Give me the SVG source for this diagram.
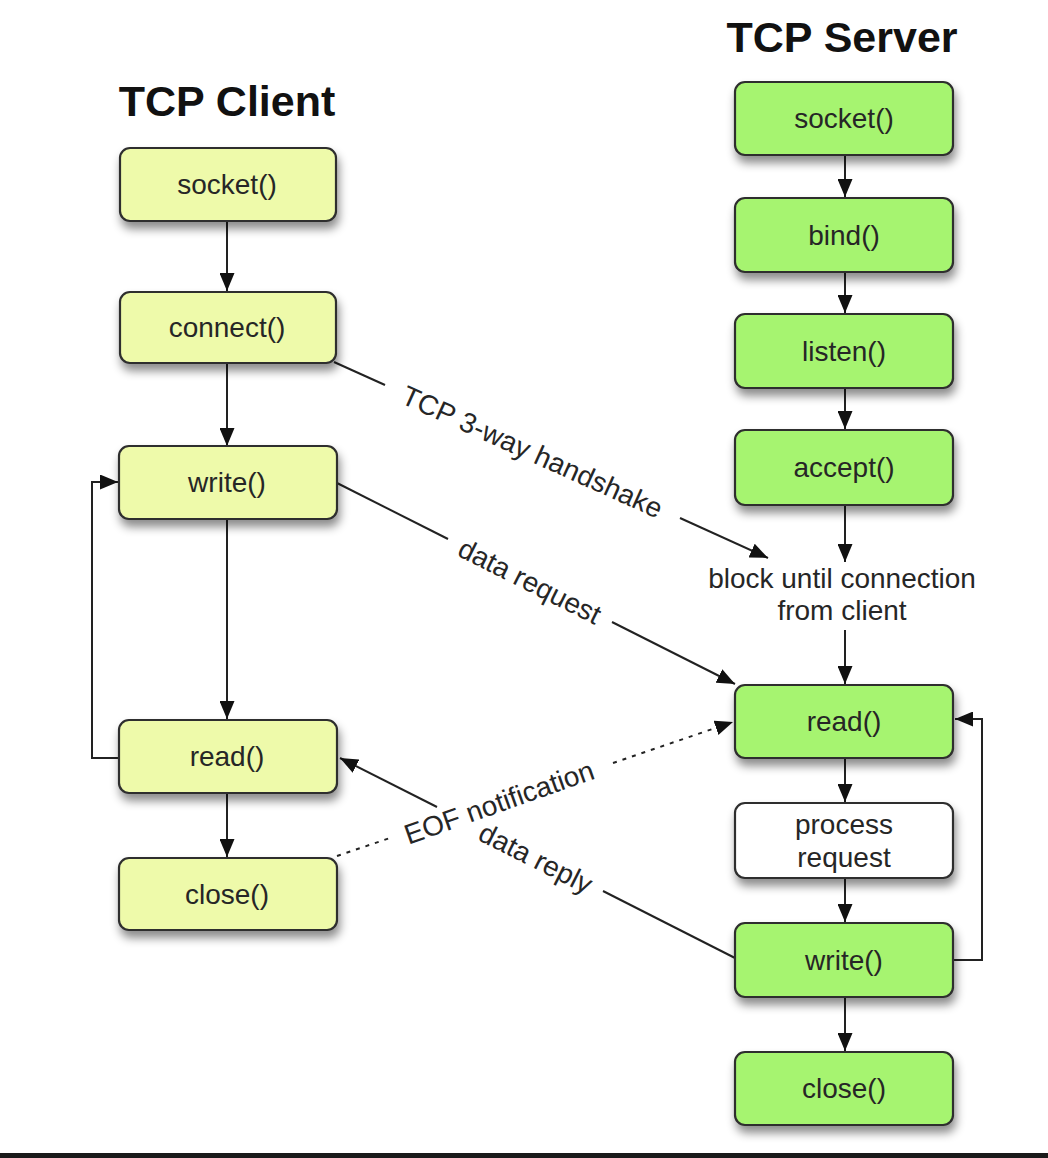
<svg xmlns="http://www.w3.org/2000/svg" width="1048" height="1158" viewBox="0 0 1048 1158">
<defs>
  <filter id="sh" x="-10%" y="-20%" width="130%" height="160%">
    <feDropShadow dx="2" dy="7" stdDeviation="5" flood-color="#000" flood-opacity="0.45"/>
  </filter>
  <marker id="ah" markerUnits="userSpaceOnUse" markerWidth="18" markerHeight="15" refX="18" refY="7.5" orient="auto">
    <path d="M0,0 L18,7.5 L0,15 z" fill="#111"/>
  </marker>
</defs>
<style>
  .box { stroke: #2e2e2e; stroke-width: 2.2; filter: url(#sh); }
  .cl { fill: #eefaaa; }
  .sv { fill: #a6f470; }
  .wh { fill: #ffffff; }
  .lbl { font-family: "Liberation Sans", Arial, sans-serif; font-size: 28px; fill: #262626; text-anchor: middle; }
  .ttl { font-family: "Liberation Sans", Arial, sans-serif; font-size: 43px; font-weight: bold; fill: #111; text-anchor: middle; }
  .ln { stroke: #222; stroke-width: 2; fill: none; }
  .arr { marker-end: url(#ah); }
  .dot { stroke-dasharray: 4 6; }
</style>
<rect x="0" y="0" width="1048" height="1158" fill="#ffffff"/>
<rect x="0" y="1153" width="1048" height="5" fill="#1a1a1a"/>

<text class="ttl" x="227" y="116">TCP Client</text>
<text class="ttl" x="842" y="52">TCP Server</text>

<g id="connectors">
  <path class="ln arr" d="M227,222 V291"/>
  <path class="ln arr" d="M227,363 V446"/>
  <path class="ln arr" d="M227,519 V719"/>
  <path class="ln arr" d="M227,793 V857"/>
  <path class="ln arr" d="M119,758 H92 V482 H118"/>
  <path class="ln arr" d="M845,156 V197"/>
  <path class="ln arr" d="M845,273 V313"/>
  <path class="ln arr" d="M845,389 V429"/>
  <path class="ln arr" d="M845,506 V562"/>
  <path class="ln arr" d="M845,630 V684"/>
  <path class="ln arr" d="M845,759 V802"/>
  <path class="ln arr" d="M845,879 V922"/>
  <path class="ln arr" d="M845,998 V1051"/>
  <path class="ln arr" d="M954,960 H982 V719 H955"/>
  <path class="ln" d="M334,362 L385,385"/>
  <path class="ln arr" d="M680,518 L768,558"/>
  <text class="lbl" transform="translate(532.5,451.5) rotate(24.3)" dy="10">TCP 3-way handshake</text>
  <path class="ln" d="M337,483 L448,539"/>
  <path class="ln arr" d="M612,622 L735,684"/>
  <text class="lbl" transform="translate(530,581) rotate(26.7)" dy="10">data request</text>
  <path class="ln" d="M735,958 L603,891"/>
  <path class="ln arr" d="M437,807 L340,758"/>
  <text class="lbl" transform="translate(536,858) rotate(26.8)" dy="10">data reply</text>
  <path class="ln dot" d="M337,856 L390,838"/>
  <path class="ln dot arr" d="M613,763 L733,722"/>
  <text class="lbl" transform="translate(499,802) rotate(-19.5)" dy="10">EOF notification</text>
</g>

<g id="c_socket"><rect class="box cl" x="120" y="148" width="216" height="73" rx="10"/><text class="lbl" x="227" y="194">socket()</text></g>
<g id="c_connect"><rect class="box cl" x="120" y="292" width="216" height="71" rx="10"/><text class="lbl" x="227" y="337">connect()</text></g>
<g id="c_write"><rect class="box cl" x="119" y="446" width="218" height="73" rx="10"/><text class="lbl" x="227" y="492">write()</text></g>
<g id="c_read"><rect class="box cl" x="119" y="720" width="218" height="73" rx="10"/><text class="lbl" x="227" y="766">read()</text></g>
<g id="c_close"><rect class="box cl" x="119" y="858" width="218" height="72" rx="10"/><text class="lbl" x="227" y="904">close()</text></g>

<g id="s_socket"><rect class="box sv" x="735" y="82" width="218" height="73" rx="10"/><text class="lbl" x="844" y="128">socket()</text></g>
<g id="s_bind"><rect class="box sv" x="735" y="198" width="218" height="74" rx="10"/><text class="lbl" x="844" y="245">bind()</text></g>
<g id="s_listen"><rect class="box sv" x="735" y="314" width="218" height="74" rx="10"/><text class="lbl" x="844" y="361">listen()</text></g>
<g id="s_accept"><rect class="box sv" x="735" y="430" width="218" height="75" rx="10"/><text class="lbl" x="844" y="477">accept()</text></g>
<g id="s_block"><text class="lbl" x="842" y="588">block until connection</text><text class="lbl" x="842" y="620">from client</text></g>
<g id="s_read"><rect class="box sv" x="735" y="685" width="218" height="73" rx="10"/><text class="lbl" x="844" y="731">read()</text></g>
<g id="s_process"><rect class="box wh" x="735" y="803" width="218" height="75" rx="10"/><text class="lbl" x="844" y="834">process</text><text class="lbl" x="844" y="867">request</text></g>
<g id="s_write"><rect class="box sv" x="735" y="923" width="218" height="74" rx="10"/><text class="lbl" x="844" y="970">write()</text></g>
<g id="s_close"><rect class="box sv" x="735" y="1052" width="218" height="73" rx="10"/><text class="lbl" x="844" y="1098">close()</text></g>
</svg>
